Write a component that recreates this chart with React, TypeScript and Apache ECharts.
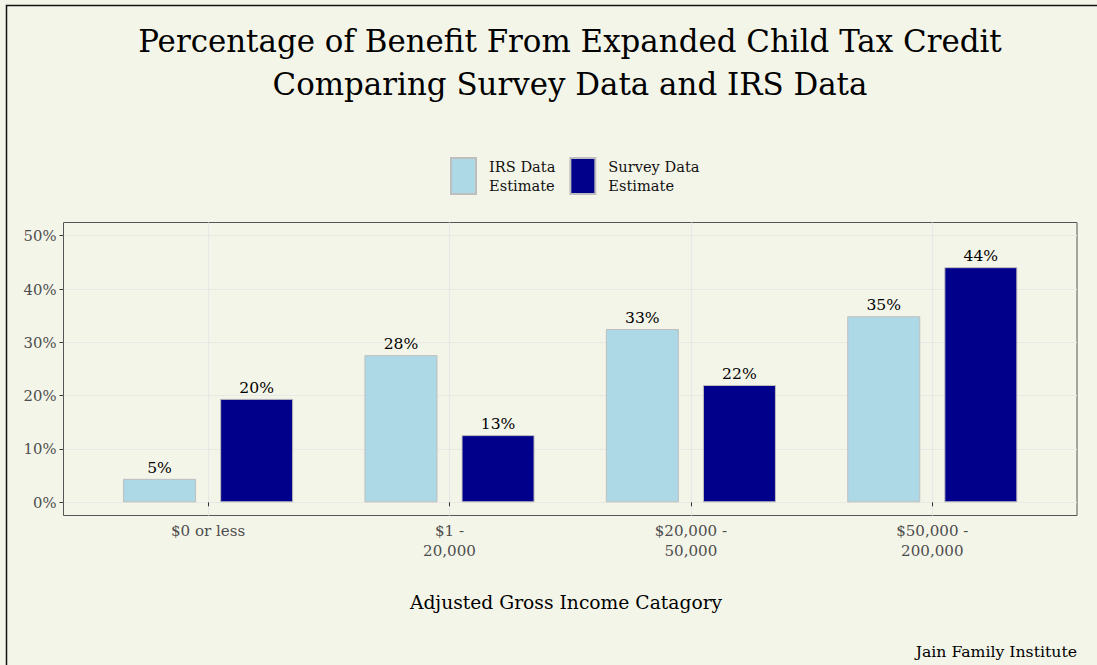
import React, { useEffect, useRef } from "react";
import * as echarts from "echarts";

const categories = ["$0 or less", "$1 -\n20,000", "$20,000 -\n50,000", "$50,000 -\n200,000"];
const irsValues = [4.4, 27.6, 32.5, 34.9];
const surveyValues = [19.4, 12.6, 22.0, 44.1];
const irsLabels = ["5%", "28%", "33%", "35%"];
const surveyLabels = ["20%", "13%", "22%", "44%"];
const seriesNames = ["IRS Data Estimate", "Survey Data Estimate"];
const titleLines = ["Percentage of Benefit From Expanded Child Tax Credit", "Comparing Survey Data and IRS Data"];
const xTitle = "Adjusted Gross Income Catagory";
const caption = "Jain Family Institute";
const yMin = 0;
const yMax = 50;
const yStep = 10;

const FONT = "'DejaVu Serif', 'Liberation Serif', serif";
const BG = "#f4f5e9";

export default function App() {
  const ref = useRef<HTMLDivElement>(null);
  useEffect(() => {
    if (!ref.current) return;
    const chart = echarts.init(ref.current, null, { renderer: "svg" });
    const hidden = { show: false };
    const option: any = {
      animation: false,
      backgroundColor: BG,
      textStyle: { fontFamily: FONT },
      grid: [
        { left: 63.5, right: 20, top: 222.5, bottom: 149.5, show: true, borderColor: "#555", borderWidth: 1, backgroundColor: "transparent", containLabel: false },
        { left: 63.5, right: 20, top: 235.7, bottom: 162.7, containLabel: false },
        { left: 208.1, right: 164.7, top: 222.5, bottom: 149.5, containLabel: false },
        { left: 87.4, right: 44, top: 235.7, bottom: 162.7, containLabel: false },
      ],
      xAxis: [
        { gridIndex: 0, type: "value", ...hidden },
        { gridIndex: 1, type: "value", ...hidden },
        {
          gridIndex: 2, type: "value", min: 0, max: 3, interval: 1,
          axisLine: hidden, axisTick: hidden, axisLabel: hidden,
          splitLine: { show: true, lineStyle: { color: "#e8e8e4", width: 1.2 } },
        },
        {
          gridIndex: 3, type: "category", data: categories, offset: 13,
          axisLine: hidden,
          axisTick: { show: true, alignWithLabel: true, length: 4, lineStyle: { color: "#333", width: 1 } },
          axisLabel: { color: "#4d4d4d", fontSize: 15.1, fontFamily: FONT, margin: 6, lineHeight: 20 },
          splitLine: hidden,
        },
      ],
      yAxis: [
        { gridIndex: 0, type: "value", ...hidden },
        {
          gridIndex: 1, type: "value", min: yMin, max: yMax, interval: yStep,
          axisLine: hidden,
          axisTick: { show: true, length: 4, lineStyle: { color: "#333", width: 1 } },
          axisLabel: { formatter: "{value}%", color: "#4d4d4d", fontSize: 14.8, fontFamily: FONT, margin: 7 },
          splitLine: { show: true, lineStyle: { color: "#e8e8e4", width: 1.2 } },
        },
        { gridIndex: 2, type: "value", ...hidden },
        { gridIndex: 3, type: "value", min: yMin, max: yMax, ...hidden },
      ],
      legend: {
        data: seriesNames,
        icon: "rect",
        left: 445,
        top: 152,
        itemWidth: 25,
        itemHeight: 36,
        itemGap: 14,
        formatter: (name: string) => name.replace(" Estimate", "\nEstimate"),
        textStyle: { fontSize: 14.6, lineHeight: 19, color: "#111", fontFamily: FONT, padding: [0, 0, 0, 8] },
      },
      series: [
        {
          name: seriesNames[0], type: "bar", xAxisIndex: 3, yAxisIndex: 3,
          data: irsValues, barWidth: 73, barGap: "33%",
          itemStyle: { color: "#add8e6", borderColor: "#bebebe", borderWidth: 1 },
          label: {
            show: true, position: "top", distance: 3, color: "#000", fontSize: 15.6, fontFamily: FONT,
            formatter: (p: any) => irsLabels[p.dataIndex],
          },
        },
        {
          name: seriesNames[1], type: "bar", xAxisIndex: 3, yAxisIndex: 3,
          data: surveyValues, barWidth: 73, barGap: "33%",
          itemStyle: { color: "#00008b", borderColor: "#bebebe", borderWidth: 1 },
          label: {
            show: true, position: "top", distance: 3, color: "#000", fontSize: 15.6, fontFamily: FONT,
            formatter: (p: any) => surveyLabels[p.dataIndex],
          },
        },
      ],
      graphic: [
        {
          type: "rect", silent: true, z: 100,
          shape: { x: 6.5, y: 5.5, width: 1200, height: 800 },
          style: { fill: "none", stroke: "#111", lineWidth: 1.5 },
        },
        {
          type: "text", x: 570, y: 19, z: 100,
          style: { text: titleLines.join("\n"), align: "center", verticalAlign: "top", fontSize: 30.9, lineHeight: 43, fontFamily: FONT, fill: "#000" },
        },
        {
          type: "text", x: 566, y: 602, z: 100,
          style: { text: xTitle, align: "center", verticalAlign: "middle", fontSize: 18.7, fontFamily: FONT, fill: "#000" },
        },
        {
          type: "text", x: 1077, y: 651, z: 100,
          style: { text: caption, align: "right", verticalAlign: "middle", fontSize: 15.7, fontFamily: FONT, fill: "#000" },
        },
      ],
    };
    chart.setOption(option);
    return () => chart.dispose();
  }, []);
  return <div ref={ref} style={{ position: "fixed", left: 0, top: 0, width: 1097, height: 665 }} />;
}
